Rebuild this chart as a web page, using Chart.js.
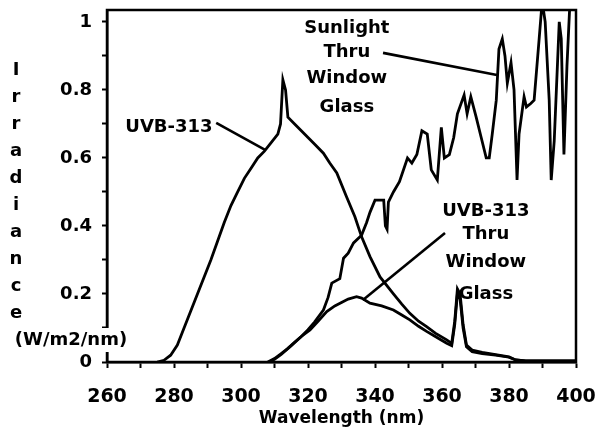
<!DOCTYPE html>
<html>
<head>
<meta charset="utf-8">
<script src="https://cdn.jsdelivr.net/npm/chart.js@4.4.1/dist/chart.umd.min.js"></script>
<style>
  html, body { margin: 0; padding: 0; background: #fff; }
  #wrap { width: 603px; height: 436px; position: relative; }
</style>
</head>
<body>
<div id="wrap"><canvas id="chart"></canvas></div>
<script>
// UVB-313 lamp, bare
const uvbNm = [275, 277, 279, 281, 283, 285, 287, 289, 291, 293, 295, 297, 299, 301, 303, 305, 307, 309, 311, 311.8,
  312.5, 313.3, 314, 316, 318, 320, 322, 324.6, 326.5, 328.6, 331.5, 334, 336, 338.5, 341.5, 345.5, 348, 350.4, 353, 355.4,
  358, 361.4, 362.9, 363.8, 364.6, 365.4, 366.3, 367.3, 369, 372, 376, 380, 382, 385, 400];
const uvbVal = [0, 0.005, 0.02, 0.05, 0.1, 0.15, 0.2, 0.25, 0.3, 0.355, 0.41, 0.46, 0.5, 0.54, 0.57, 0.6, 0.62, 0.645, 0.67, 0.70,
  0.83, 0.80, 0.72, 0.70, 0.68, 0.66, 0.64, 0.614, 0.585, 0.556, 0.486, 0.427, 0.368, 0.31, 0.25, 0.20, 0.17, 0.143, 0.12, 0.104,
  0.085, 0.065, 0.055, 0.12, 0.215, 0.20, 0.11, 0.05, 0.035, 0.028, 0.022, 0.015, 0.006, 0.003, 0.003];

// UVB-313 through window glass
const glassNm = [308, 310, 312, 314, 316, 318, 320.6, 323, 325.6, 328, 330, 332, 334.5, 336, 338.5, 342, 345.5, 348, 350.4, 353,
  355.4, 358, 361.4, 362.9, 363.8, 364.6, 365.4, 366.3, 367.3, 369, 372, 376, 380, 382, 385, 400];
const glassVal = [0, 0.01, 0.025, 0.04, 0.058, 0.075, 0.094, 0.12, 0.148, 0.165, 0.175, 0.185, 0.192, 0.188, 0.173, 0.165, 0.153, 0.138, 0.124, 0.105,
  0.09, 0.075, 0.055, 0.048, 0.11, 0.2, 0.185, 0.1, 0.045, 0.03, 0.025, 0.02, 0.014, 0.006, 0.003, 0.003];

// sunlight through window glass
const sunNm = [308.5, 310, 312, 315, 318, 320, 322, 324.6, 326, 327.1, 329.5, 330.6, 332, 333.6, 336, 337.5, 338.5, 340, 342.6, 343.1,
  343.6, 344.0, 345.5, 347.3, 349.7, 351, 352.5, 354, 355.6, 356.8, 358.6, 359.8, 360.7, 362.2, 363.5, 364.6, 366.6, 367.5, 368.6, 370.2,
  371.7, 373.2, 374.1, 375, 376.2, 377, 378, 378.8, 379.5, 380.6, 381.5, 382.4, 383, 384.5, 385.2, 386.5, 387.5, 389, 389.9, 390.8,
  392, 392.6, 393.5, 395, 395.6, 396.4, 397.3, 398.2, 400];
const sunVal = [0, 0.008, 0.022, 0.048, 0.075, 0.095, 0.118, 0.153, 0.19, 0.232, 0.245, 0.305, 0.32, 0.35, 0.373, 0.41, 0.44, 0.476, 0.476, 0.40,
  0.39, 0.47, 0.50, 0.53, 0.60, 0.585, 0.61, 0.68, 0.67, 0.565, 0.535, 0.69, 0.60, 0.61, 0.66, 0.73, 0.785, 0.73, 0.78, 0.72,
  0.66, 0.60, 0.60, 0.67, 0.77, 0.92, 0.95, 0.90, 0.82, 0.88, 0.80, 0.535, 0.67, 0.78, 0.75, 0.76, 0.77, 0.95, 1.06, 1.0,
  0.77, 0.535, 0.65, 1.0, 0.95, 0.61, 0.87, 1.06, 1.06];

const xTickValues = [260, 270, 280, 290, 300, 310, 320, 330, 340, 350, 360, 370, 380, 390, 400];
const xTickLabels = ['260', '', '280', '', '300', '', '320', '', '340', '', '360', '', '380', '', '400'];
const yTickValues = [0, 0.1, 0.2, 0.3, 0.4, 0.5, 0.6, 0.7, 0.8, 0.9, 1];
const yTickLabels = ['0', '', '0.2', '', '0.4', '', '0.6', '', '0.8', '', '1'];

const yTitleLines = ['I', 'r', 'r', 'a', 'd', 'i', 'a', 'n', 'c', 'e', '(W/m2/nm)'];
const xTitle = 'Wavelength (nm)';

// callout text, placed in data units; leader line from [x,y] to [x,y]
const callouts = [
  { lines: ['UVB-313'], x: 278.5, y: [0.691], from: [292.6, 0.703], to: [307.2, 0.624] },
  { lines: ['Sunlight', 'Thru', 'Window', 'Glass'], x: 331.6, y: [0.982, 0.912, 0.835, 0.75], from: [342.4, 0.909], to: [376.4, 0.844] },
  { lines: ['UVB-313', 'Thru', 'Window', 'Glass'], x: 373.1, y: [0.444, 0.376, 0.294, 0.2], from: [360.9, 0.379], to: [336.4, 0.182] }
];

const FONT = "'DejaVu Sans', sans-serif";

function toPoints(xs, ys) {
  return xs.map((x, i) => ({ x: x, y: ys[i] }));
}

function series(label, xs, ys) {
  return {
    label: label,
    data: toPoints(xs, ys),
    borderColor: '#000',
    borderWidth: 2.8,
    pointRadius: 0,
    tension: 0,
    fill: false
  };
}

const decorPlugin = {
  id: 'decor',
  afterDraw(chart) {
    const ctx = chart.ctx;
    const area = chart.chartArea;
    const xs = chart.scales.x;
    const ys = chart.scales.y;
    ctx.save();

    // box round the plot
    ctx.strokeStyle = '#000';
    ctx.lineWidth = 2.5;
    ctx.strokeRect(area.left, area.top, area.right - area.left, area.bottom - area.top);

    // callouts
    ctx.fillStyle = '#000';
    ctx.font = 'bold 18px ' + FONT;
    ctx.textAlign = 'center';
    ctx.textBaseline = 'middle';
    callouts.forEach(c => {
      c.lines.forEach((t, i) => {
        ctx.fillText(t, xs.getPixelForValue(c.x), ys.getPixelForValue(c.y[i]));
      });
      ctx.lineWidth = 2.6;
      ctx.beginPath();
      ctx.moveTo(xs.getPixelForValue(c.from[0]), ys.getPixelForValue(c.from[1]));
      ctx.lineTo(xs.getPixelForValue(c.to[0]), ys.getPixelForValue(c.to[1]));
      ctx.stroke();
    });

    // stacked y title, the unit line breaks the axis
    ctx.font = 'bold 18px ' + FONT;
    yTitleLines.forEach((t, i) => {
      const y = 70 + i * 27;
      const isUnit = i === yTitleLines.length - 1;
      const cx = isUnit ? 71 : 16;
      if (isUnit) {
        const w = ctx.measureText(t).width;
        ctx.fillStyle = '#fff';
        ctx.fillRect(cx - w / 2 - 2, y - 12, w + 4, 24);
        ctx.fillStyle = '#000';
      }
      ctx.fillText(t, cx, y);
    });
    ctx.restore();
  }
};

new Chart(document.getElementById('chart'), {
  type: 'line',
  data: {
    datasets: [
      series('UVB-313', uvbNm, uvbVal),
      series('UVB-313 Thru Window Glass', glassNm, glassVal),
      series('Sunlight Thru Window Glass', sunNm, sunVal)
    ]
  },
  options: {
    responsive: true,
    maintainAspectRatio: false,
    animation: false,
    events: [],
    layout: { padding: { top: 10, right: 27, bottom: 0, left: 0 } },
    plugins: {
      legend: { display: false },
      tooltip: { enabled: false }
    },
    scales: {
      x: {
        type: 'linear',
        min: 260,
        max: 400,
        afterBuildTicks: s => { s.ticks = xTickValues.map(v => ({ value: v })); },
        afterFit: s => { s.height = 74; s.paddingLeft = 0; s.paddingRight = 0; },
        ticks: {
          autoSkip: false,
          maxRotation: 0,
          padding: 18,
          color: '#000',
          font: { family: FONT, size: 19, weight: 'bold' },
          callback: (v, i) => xTickLabels[i]
        },
        grid: { drawOnChartArea: false, drawTicks: true, tickLength: 6, tickColor: '#000', tickWidth: 2 },
        border: { display: true, color: '#000', width: 2.5 },
        title: {
          display: true,
          text: xTitle,
          color: '#000',
          font: { family: FONT, size: 17, weight: 'bold' },
          padding: { top: 0, bottom: 7 }
        }
      },
      y: {
        min: 0,
        max: 1.035,
        afterBuildTicks: s => { s.ticks = yTickValues.map(v => ({ value: v })); },
        afterFit: s => { s.width = 107; s.paddingTop = 0; s.paddingBottom = 0; },
        ticks: {
          autoSkip: false,
          padding: 10,
          color: '#000',
          font: { family: FONT, size: 18, weight: 'bold' },
          callback: (v, i) => yTickLabels[i]
        },
        grid: { drawOnChartArea: false, drawTicks: true, tickLength: 5, tickColor: '#000', tickWidth: 2 },
        border: { display: true, color: '#000', width: 2.5 }
      }
    }
  },
  plugins: [decorPlugin]
});
</script>
</body>
</html>
